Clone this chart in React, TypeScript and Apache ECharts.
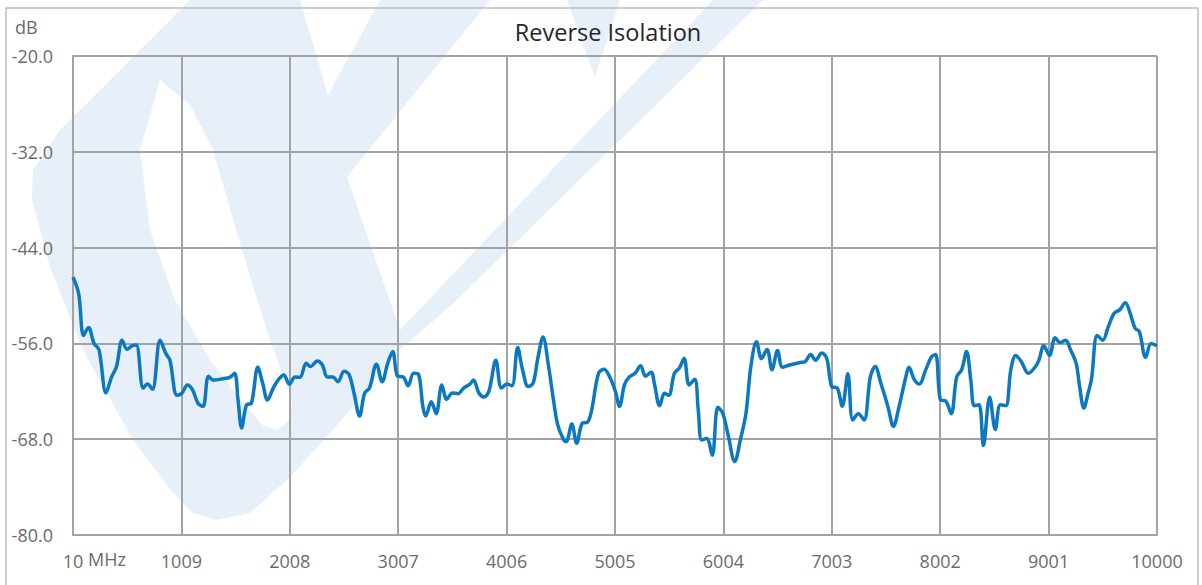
import React, { useEffect, useRef } from "react";
import * as echarts from "echarts";

const freqsMHz = [10,62,107,152,204,250,314,366,411,463,508,554,593,657,696,742,813,865,903,968,1013,1065,1111,1162,1208,1259,1305,1402,1454,1499,1531,1564,1609,1654,1713,1758,1803,1855,1900,1952,2004,2056,2101,2159,2198,2263,2308,2354,2405,2451,2509,2554,2600,2651,2697,2742,2807,2859,2910,2956,3001,3053,3098,3150,3195,3234,3260,3312,3357,3409,3454,3506,3558,3610,3668,3700,3752,3797,3843,3907,3959,4011,4056,4108,4153,4205,4250,4296,4341,4393,4438,4477,4529,4555,4607,4652,4704,4749,4788,4853,4904,4963,5008,5047,5092,5137,5189,5241,5286,5338,5370,5416,5461,5500,5552,5597,5642,5688,5740,5772,5804,5850,5901,5953,5998,6044,6109,6160,6212,6257,6309,6355,6406,6452,6503,6549,6613,6710,6756,6808,6853,6911,6957,7002,7054,7099,7151,7196,7248,7300,7358,7403,7455,7520,7571,7623,7682,7714,7766,7811,7863,7921,7960,8005,8051,8103,8154,8200,8245,8284,8316,8361,8400,8458,8510,8556,8607,8653,8698,8750,8815,8880,8912,8957,9009,9061,9106,9158,9203,9255,9287,9326,9365,9397,9449,9501,9546,9604,9656,9708,9753,9798,9837,9895,9947,10000];

const isolationDb = [-47.7,-49.75,-55.0,-54.0,-56.0,-56.8,-62.2,-60.2,-58.9,-55.6,-56.75,-56.3,-56.2,-61.6,-61.1,-61.75,-55.6,-57.25,-58.1,-62.5,-62.25,-61.2,-61.8,-63.5,-63.9,-60.1,-60.6,-60.4,-60.25,-59.75,-63.1,-66.6,-63.7,-63.5,-59.0,-61.0,-63.1,-61.6,-60.6,-59.95,-61.1,-60.2,-60.25,-58.5,-58.9,-58.2,-58.7,-60.2,-60.2,-60.8,-59.5,-59.9,-62.25,-65.1,-62.25,-61.6,-58.6,-60.8,-58.5,-57.0,-60.1,-60.2,-61.3,-59.75,-59.9,-63.9,-65.1,-63.3,-64.8,-61.2,-63.0,-62.2,-62.3,-61.6,-61.1,-60.6,-62.25,-62.7,-62.0,-58.1,-61.6,-61.1,-61.3,-56.5,-59.3,-61.4,-61.0,-57.7,-55.2,-58.9,-63.1,-66.2,-68.0,-68.3,-66.1,-68.5,-66.0,-65.9,-64.5,-59.75,-59.25,-60.4,-62.0,-63.9,-61.2,-60.2,-59.75,-58.8,-60.1,-59.6,-61.2,-63.8,-62.25,-62.5,-59.75,-59.1,-57.9,-61.2,-60.5,-64.3,-68.1,-67.9,-70.0,-64.0,-64.75,-67.25,-70.8,-68.1,-64.75,-58.9,-55.8,-57.9,-56.75,-59.3,-56.9,-59.0,-58.7,-58.4,-58.3,-57.4,-58.1,-57.2,-57.9,-61.4,-61.6,-63.9,-59.8,-65.6,-64.8,-65.6,-60.2,-58.9,-61.0,-63.9,-66.4,-63.9,-60.4,-59.0,-60.6,-61.1,-59.5,-57.7,-57.4,-63.1,-63.2,-64.8,-60.2,-59.3,-57.0,-60.6,-63.8,-63.7,-68.8,-62.75,-66.8,-63.7,-63.8,-59.3,-57.5,-58.3,-59.75,-58.9,-58.1,-56.3,-57.5,-55.3,-55.9,-55.6,-56.8,-58.5,-61.4,-64.1,-62.25,-60.4,-55.0,-55.6,-54.1,-52.25,-51.8,-50.9,-52.25,-54.1,-54.5,-57.75,-56.0,-56.3];

// axis layout values
const freqStart = 10;
const freqStep = 999; // 10, 1009, 2008 ... 10000
const freqTickCount = 10;
const dbMin = -80;
const dbMax = -20;
const dbStep = 12;

const TITLE = "Reverse Isolation";
const Y_UNIT = "dB";
const X_UNIT = "MHz";

const FONT = "'Open Sans', 'Noto Sans', sans-serif";
const LABEL_COLOR = "#6b6b6b";
const GRID_COLOR = "#a3a3a3";
const WM = "#e7eff8";

export default function App() {
  const ref = useRef<HTMLDivElement>(null);

  useEffect(() => {
    document.body.style.margin = "0";
    if (!ref.current) return;
    const chart = echarts.init(ref.current, null, { renderer: "svg" });

    const data = freqsMHz.map((f, i) => [f - freqStart, isolationDb[i] - dbMin]);

    const wmPoly = (points: number[][], fill: string, z: number) => ({
      type: "polygon",
      z,
      silent: true,
      shape: { points, smooth: 0 },
      style: { fill },
    });

    const option: any = {
      animation: false,
      backgroundColor: "#ffffff",
      title: {
        text: TITLE,
        left: 603,
        top: 15,
        textAlign: "center",
        textStyle: { fontFamily: FONT, fontSize: 23.5, fontWeight: "normal", color: "#262626" },
      },
      grid: { left: 73, right: 45, top: 56, bottom: 50, containLabel: false },
      xAxis: {
        type: "value",
        min: 0,
        max: freqStep * freqTickCount,
        interval: freqStep,
        axisLine: { show: true, lineStyle: { color: GRID_COLOR, width: 2 } },
        axisTick: { show: false },
        splitLine: { show: true, lineStyle: { color: GRID_COLOR, width: 2 } },
        axisLabel: {
          margin: 17,
          fontFamily: FONT,
          fontSize: 18,
          color: LABEL_COLOR,
          formatter: (v: number) => String(Math.round(v + freqStart)),
        },
      },
      yAxis: {
        type: "value",
        min: 0,
        max: dbMax - dbMin,
        interval: dbStep,
        axisLine: { show: true, lineStyle: { color: GRID_COLOR, width: 2 } },
        axisTick: { show: false },
        splitLine: { show: true, lineStyle: { color: GRID_COLOR, width: 2 } },
        axisLabel: {
          margin: 20,
          fontFamily: FONT,
          fontSize: 18,
          color: LABEL_COLOR,
          formatter: (v: number) => (v + dbMin).toFixed(1),
        },
      },
      graphic: [
        // watermark body
        wmPoly(
          [
            [190, 0], [120, 70], [60, 130], [33, 170], [32, 200], [50, 267], [83, 350], [133, 440], [173, 493],
            [193, 513], [217, 520], [250, 513], [290, 477], [333, 430], [400, 350], [457, 300], [763, 0],
          ],
          WM,
          -20
        ),
        // white cut-outs
        wmPoly([[300, 0], [380, 0], [328, 95]], "#ffffff", -19),
        wmPoly([[490, 0], [347, 177], [400, 330], [713, 0]], "#ffffff", -19),
        wmPoly(
          [
            [160, 80], [140, 150], [150, 230], [175, 300], [210, 360], [245, 405], [262, 425], [277, 430],
            [290, 420], [292, 400], [270, 340], [245, 260], [213, 150], [190, 105],
          ],
          "#ffffff",
          -19
        ),
        wmPoly([[567, 0], [620, 0], [595, 77]], WM, -18),
        {
          type: "rect",
          z: 100,
          silent: true,
          shape: { x: 6, y: 8, width: 1192, height: 600 },
          style: { fill: "none", stroke: "#bdbdbd", lineWidth: 1.5 },
        },
        {
          type: "text",
          z: 100,
          x: 15,
          y: 27,
          style: { text: Y_UNIT, fontFamily: FONT, fontSize: 18, fill: LABEL_COLOR, textVerticalAlign: "middle" },
        },
        {
          type: "text",
          z: 100,
          x: 88,
          y: 559,
          style: { text: X_UNIT, fontFamily: FONT, fontSize: 18, fill: LABEL_COLOR, textVerticalAlign: "middle" },
        },
      ],
      series: [
        {
          type: "line",
          data,
          smooth: 0.35,
          showSymbol: false,
          z: 5,
          lineStyle: { color: "#0b78bf", width: 3.5 },
        },
      ],
    };

    chart.setOption(option);
    return () => chart.dispose();
  }, []);

  return <div ref={ref} style={{ width: 1202, height: 585 }} />;
}
